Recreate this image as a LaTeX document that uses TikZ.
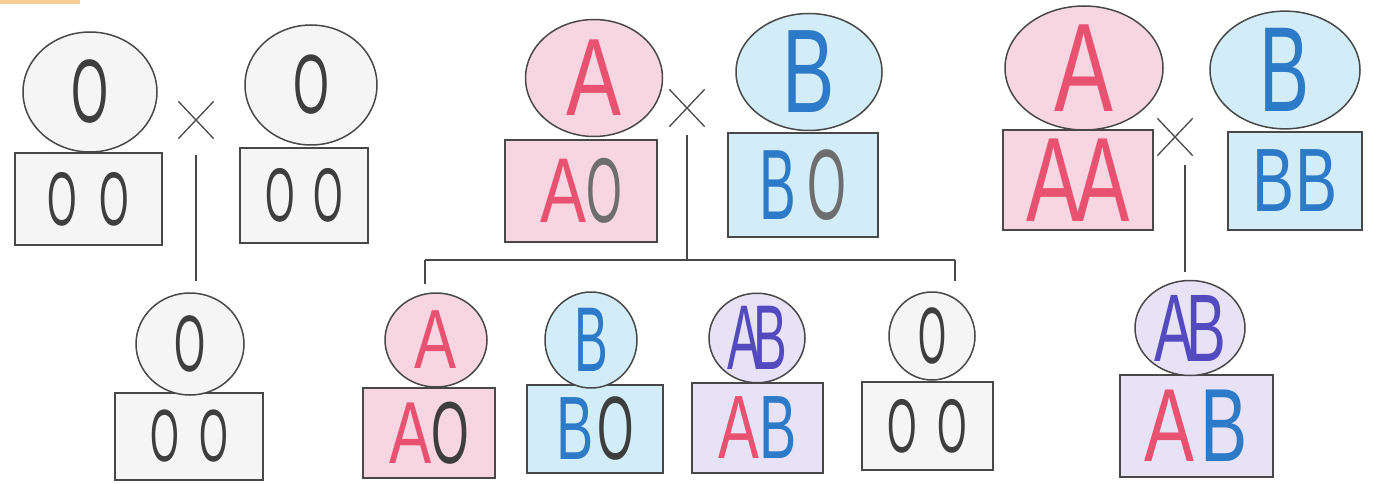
\documentclass[tikz,border=0pt]{standalone}
\usepackage{fontspec}
\setmainfont{Liberation Sans}
\usetikzlibrary{shapes.geometric,shapes.misc}
\definecolor{pinkfill}{RGB}{247,214,226}
\definecolor{bluefill}{RGB}{210,237,248}
\definecolor{lavfill}{RGB}{232,226,246}
\definecolor{grayfill}{RGB}{245,245,245}
\definecolor{redl}{RGB}{232,82,112}
\definecolor{bluel}{RGB}{45,122,200}
\definecolor{purl}{RGB}{84,74,192}
\definecolor{darkl}{RGB}{62,62,62}
\definecolor{lightl}{RGB}{110,110,110}
\definecolor{pencil}{RGB}{72,72,72}
\definecolor{scan}{RGB}{248,206,150}
\newcommand\hl[3]{\textcolor{#1}{\scalebox{#2}[1]{#3}}}
\tikzset{
  ell/.style={ellipse, draw=pencil, line width=1.5pt, inner sep=0pt},
  gbox/.style={rectangle, draw=pencil, line width=1.5pt, inner sep=0pt},
  fs/.style={font={\fontsize{#1}{#1}\selectfont}},
  crossx/.style={cross out, draw=pencil, line width=1.3pt, minimum width=34pt, minimum height=36pt, inner sep=0pt},
  conn/.style={draw=pencil, line width=1.5pt}
}
\begin{document}
\begin{tikzpicture}[x=1pt,y=-1pt]
\useasboundingbox (0,0) rectangle (1374,484);
\fill[scan] (0,0) rectangle (80,4);

% ---------- group 1 : O x O ----------
\node[gbox, fill=grayfill, minimum width=147pt, minimum height=92pt, fs=76] (g1) at (88.5,199) {\hl{darkl}{0.5}{O}\hspace{22pt}\hl{darkl}{0.5}{O}};
\node[ell, fill=grayfill, minimum width=134pt, minimum height=120pt, fs=90] (p1) at (90,92) {\hl{darkl}{0.53}{O}};
\node[gbox, fill=grayfill, minimum width=128pt, minimum height=95pt, fs=76] (g2) at (304,195.5) {\hl{darkl}{0.5}{O}\hspace{18pt}\hl{darkl}{0.5}{O}};
\node[ell, fill=grayfill, minimum width=132pt, minimum height=120pt, fs=84] (p2) at (311,85) {\hl{darkl}{0.55}{O}};
\node[crossx] (x1) at (196,120) {};
\node[gbox, fill=grayfill, minimum width=148pt, minimum height=87pt, fs=74] (h1) at (189,436.5) {\hl{darkl}{0.5}{O}\hspace{20pt}\hl{darkl}{0.5}{O}};
\node[ell, fill=grayfill, minimum width=108pt, minimum height=102pt, fs=80] (c1) at (190,344) {\hl{darkl}{0.5}{O}};
\draw[conn, shorten <=35pt, shorten >=11pt] (x1.center) -- (x1.center |- c1.north);

% ---------- group 2 : AO x BO ----------
\node[gbox, fill=pinkfill, minimum width=152pt, minimum height=102pt, fs=92] (g3) at (581,191) {\hl{redl}{0.75}{A}\hl{lightl}{0.5}{O}};
\node[ell, fill=pinkfill, minimum width=137pt, minimum height=117pt, fs=110] (p3) at (594,78) {\hl{redl}{0.75}{A}};
\node[gbox, fill=bluefill, minimum width=150pt, minimum height=104pt, fs=100] (g4) at (803,185) {\hl{bluel}{0.55}{B}\hspace{12pt}\hl{lightl}{0.5}{O}};
\node[ell, fill=bluefill, minimum width=146pt, minimum height=117pt, fs=119] (p4) at (809,72) {\hl{bluel}{0.66}{B}};
\node[crossx] (x2) at (687,108) {};
\coordinate (busL) at (425,260);
\coordinate (busR) at (955,260);

\node[gbox, fill=pinkfill, minimum width=132pt, minimum height=90pt, fs=88] (hA) at (429,433) {\hl{redl}{0.72}{A}\hl{darkl}{0.55}{O}};
\node[ell, fill=pinkfill, minimum width=102pt, minimum height=94pt, fs=84] (cA) at (436,340) {\hl{redl}{0.75}{A}};
\node[gbox, fill=bluefill, minimum width=136pt, minimum height=88pt, fs=90] (hB) at (595,429) {\hl{bluel}{0.62}{B}\hspace{4pt}\hl{darkl}{0.52}{O}};
\node[ell, fill=bluefill, minimum width=92pt, minimum height=96pt, fs=92] (cB) at (591,340) {\hl{bluel}{0.55}{B}};
\node[gbox, fill=lavfill, minimum width=131pt, minimum height=90pt, fs=90] (hAB) at (757.5,428) {\hl{redl}{0.68}{A}\hl{bluel}{0.62}{B}};
\node[ell, fill=lavfill, minimum width=96pt, minimum height=84pt, fs=92] (cAB) at (757,338) {\hl{purl}{0.55}{A}\hspace{-8pt}\hl{purl}{0.55}{B}};
\node[gbox, fill=grayfill, minimum width=131pt, minimum height=88pt, fs=76] (hO) at (927.5,426) {\hl{darkl}{0.5}{O}\hspace{20pt}\hl{darkl}{0.5}{O}};
\node[ell, fill=grayfill, minimum width=86pt, minimum height=88pt, fs=80] (cO) at (932,336) {\hl{darkl}{0.45}{O}};

\draw[conn, shorten <=27pt] (x2.center) -- (x2.center |- busL);
\draw[conn] (busL) -- (busR);
\draw[conn, shorten >=8pt] (busL) -- (busL |- cA.north);
\draw[conn, shorten >=10pt] (busR) -- (busR |- cO.north);

% ---------- group 3 : AA x BB ----------
\node[gbox, fill=pinkfill, minimum width=150pt, minimum height=100pt, fs=120] (g5) at (1078,180) {\hl{redl}{0.68}{A}\hspace{-6pt}\hl{redl}{0.68}{A}};
\node[ell, fill=pinkfill, minimum width=158pt, minimum height=124pt, fs=126] (p5) at (1084,68) {\hl{redl}{0.7}{A}};
\node[gbox, fill=bluefill, minimum width=134pt, minimum height=98pt, fs=90] (g6) at (1295,181) {\hl{bluel}{0.7}{B}\hl{bluel}{0.7}{B}};
\node[ell, fill=bluefill, minimum width=150pt, minimum height=116pt, fs=121] (p6) at (1285,70) {\hl{bluel}{0.62}{B}};
\node[crossx] (x3) at (1175,137) {};
\node[gbox, fill=lavfill, minimum width=153pt, minimum height=102pt, fs=104] (h5) at (1196.5,426) {\hl{redl}{0.72}{A}\hspace{6pt}\hl{bluel}{0.68}{B}};
\node[ell, fill=lavfill, minimum width=110pt, minimum height=95pt, fs=96] (c5) at (1190,328) {\hl{purl}{0.62}{A}\hspace{-8pt}\hl{purl}{0.62}{B}};
\coordinate (x3a) at ([xshift=10pt]x3.center);
\draw[conn, shorten <=28pt, shorten >=8pt] (x3a) -- (x3a |- c5.north);
\end{tikzpicture}
\end{document}
